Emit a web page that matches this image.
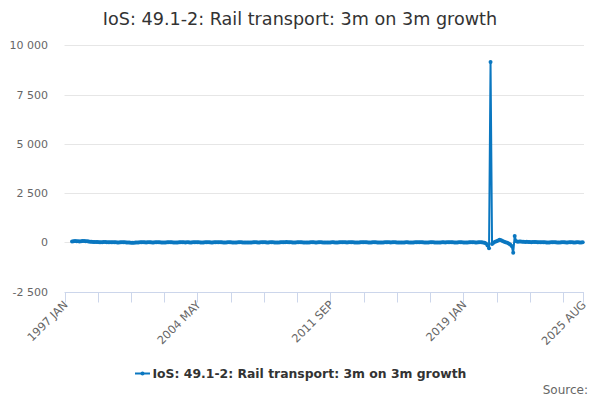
<!DOCTYPE html>
<html>
<head>
<meta charset="utf-8">
<script src="https://cdn.jsdelivr.net/npm/d3@7"></script>
<style>
  body { margin: 0; background: #fff; }
  text { font-family: "DejaVu Sans", "Lucida Grande", sans-serif; }
</style>
</head>
<body>
<div id="chart"></div>
<script>
const seriesName = "IoS: 49.1-2: Rail transport: 3m on 3m growth";
const monthNames = ["JAN", "FEB", "MAR", "APR", "MAY", "JUN", "JUL", "AUG", "SEP", "OCT", "NOV", "DEC"];
const years = d3.range(1997, 2026);
const categories = years
  .flatMap((y) => monthNames.map((m) => `${y} ${m}`))
  .slice(0, 344); // 1997 JAN .. 2025 AUG

const tickLabels = ["1997 JAN", "2004 MAY", "2011 SEP", "2019 JAN", "2025 AUG"];
const yTicks = [-2500, 0, 2500, 5000, 7500, 10000];

// one row per year, JAN..DEC
const values = [
  null, null, null, null, null, 45, 60, 70, 65, 55, 50, 60,
  70, 75, 65, 55, 45, 40, 30, 25, 20, 15, 18, 12,
  8, 12, 18, 15, 10, 6, 4, 8, 12, 10, 5, 2,
  -2, 3, 6, 9, 4, 0, -5, -8, -12, -20, -15, -8,
  -3, 2, 5, 8, 6, 3, 1, 4, 7, 5, 2, 0,
  4, 8, 10, 6, 2, -3, -6, -2, 3, 7, 9, 5,
  2, -1, -4, 0, 5, 8, 6, 3, 1, 4, 6, 2,
  0, 3, 7, 10, 8, 4, 1, -2, 2, 6, 9, 7,
  5, 2, -1, 3, 6, 9, 12, 8, 4, 0, -3, 1,
  4, 7, 5, 2, -1, -5, -2, 3, 6, 4, 1, -2,
  -6, -10, -7, -3, 1, 4, 7, 5, 2, 0, 3, 6,
  8, 5, 2, -1, 3, 6, 4, 1, -2, -4, 0, 3,
  6, 9, 12, 15, 10, 6, 3, 1, -2, 2, 5, 8,
  6, 3, 0, -3, -6, -2, 1, 4, 7, 5, 2, 0,
  3, 6, 4, 1, -1, -4, -7, -3, 0, 3, 5, 2,
  -1, 2, 5, 8, 10, 7, 4, 1, 3, 6, 8, 5,
  2, 0, -2, 1, 4, 7, 9, 6, 3, 1, -1, 2,
  5, 7, 4, 2, 0, -3, -1, 2, 5, 8, 6, 3,
  1, 4, 6, 3, 0, -2, -5, -8, -4, 0, 3, 5,
  2, -1, -3, 0, 3, 6, 8, 10, 7, 4, 2, 0,
  -2, 1, 4, 7, 5, 2, 0, -3, -1, 2, 5, 3,
  1, 4, 7, 9, 6, 3, 1, -1, 2, 4, 6, 4,
  2, 0, -2, 1, 3, 5, 7, 4, 2, 0, 3, 5,
  5, 0, -20, -60, -150, -300, 9150, -80, -20, 30, 60, 100,
  130, 110, 70, 40, 10, -20, -60, -100, -180, -520, 330, 60,
  40, 50, 45, 35, 30, 25, 30, 20, 15, 10, 20, 25,
  15, 10, 5, 8, 12, 6, 3, 0, -5, 2, 6, 4,
  8, 5, 2, -3, 0, 4, 7, 3, -2, 1, 5, 3,
  6, 2, -1, 3, 5, 2, 0, 4,
];

const width = 600;
const height = 400;
const plot = { left: 64.5, right: 584, top: 45.3, bottom: 291.7 };
const lineColor = "#0a77c0";

const svg = d3
  .select("#chart")
  .append("svg")
  .attr("width", width)
  .attr("height", height);

const x = d3
  .scalePoint()
  .domain(categories)
  .range([plot.left, 582.7]);

const y = d3
  .scaleLinear()
  .domain([-2500, 10000])
  .range([plot.bottom, plot.top]);

const formatValue = (v) => d3.format(",")(v).replace(/,/g, " ").replace("−", "-");

// title
svg
  .append("text")
  .attr("x", width / 2)
  .attr("y", 24.5)
  .attr("text-anchor", "middle")
  .attr("fill", "#333333")
  .attr("font-size", "17.6px")
  .text(seriesName);

// horizontal grid lines and y labels
svg
  .selectAll("line.grid")
  .data(yTicks.filter((t) => t > -2500))
  .enter()
  .append("line")
  .attr("class", "grid")
  .attr("x1", plot.left)
  .attr("x2", plot.right)
  .attr("y1", (d) => Math.round(y(d)) + 0.5)
  .attr("y2", (d) => Math.round(y(d)) + 0.5)
  .attr("stroke", "#e6e6e6");

svg
  .selectAll("text.ylabel")
  .data(yTicks)
  .enter()
  .append("text")
  .attr("class", "ylabel")
  .attr("x", 48)
  .attr("y", (d) => y(d) + 4)
  .attr("text-anchor", "end")
  .attr("fill", "#666666")
  .attr("font-size", "11px")
  .text(formatValue);

// x axis
const xAxis = svg.append("g").attr("transform", `translate(0, ${Math.round(plot.bottom) + 0.5})`);

xAxis
  .append("line")
  .attr("x1", plot.left)
  .attr("x2", plot.right)
  .attr("stroke", "#ccd6eb");

const tickCats = categories.filter((_, i) => i % 22 === 0 || i === categories.length - 1);

xAxis
  .selectAll("line.tick")
  .data(tickCats)
  .enter()
  .append("line")
  .attr("class", "tick")
  .attr("x1", (d) => Math.round(x(d)) + 0.5)
  .attr("x2", (d) => Math.round(x(d)) + 0.5)
  .attr("y1", 0)
  .attr("y2", 10)
  .attr("stroke", "#ccd6eb");

xAxis
  .selectAll("text.xlabel")
  .data(tickLabels)
  .enter()
  .append("text")
  .attr("class", "xlabel")
  .attr("transform", (d) => `translate(${x(d) + 4}, 13) rotate(-45)`)
  .attr("text-anchor", "end")
  .attr("fill", "#666666")
  .attr("font-size", "11.3px")
  .text((d) => d);

// series
const points = categories
  .map((c, i) => ({ c, v: values[i] }))
  .filter((d) => d.v !== null);

const line = d3
  .line()
  .x((d) => x(d.c))
  .y((d) => y(d.v));

svg
  .append("path")
  .datum(points)
  .attr("d", line)
  .attr("fill", "none")
  .attr("stroke", lineColor)
  .attr("stroke-width", 2)
  .attr("stroke-linejoin", "round");

svg
  .selectAll("circle.pt")
  .data(points)
  .enter()
  .append("circle")
  .attr("class", "pt")
  .attr("cx", (d) => x(d.c))
  .attr("cy", (d) => y(d.v))
  .attr("r", 2)
  .attr("fill", lineColor);

// legend
const legend = svg.append("g").attr("transform", "translate(135, 373.5)");

legend
  .append("line")
  .attr("x1", 0)
  .attr("x2", 15)
  .attr("stroke", lineColor)
  .attr("stroke-width", 2);

legend
  .append("circle")
  .attr("cx", 7.5)
  .attr("r", 2)
  .attr("fill", lineColor);

legend
  .append("text")
  .attr("x", 17.5)
  .attr("y", 4.5)
  .attr("fill", "#333333")
  .attr("font-size", "12.4px")
  .attr("font-weight", "bold")
  .text(seriesName);

svg
  .append("text")
  .attr("x", 588)
  .attr("y", 394)
  .attr("text-anchor", "end")
  .attr("fill", "#666666")
  .attr("font-size", "12px")
  .text("Source:");
</script>
</body>
</html>
